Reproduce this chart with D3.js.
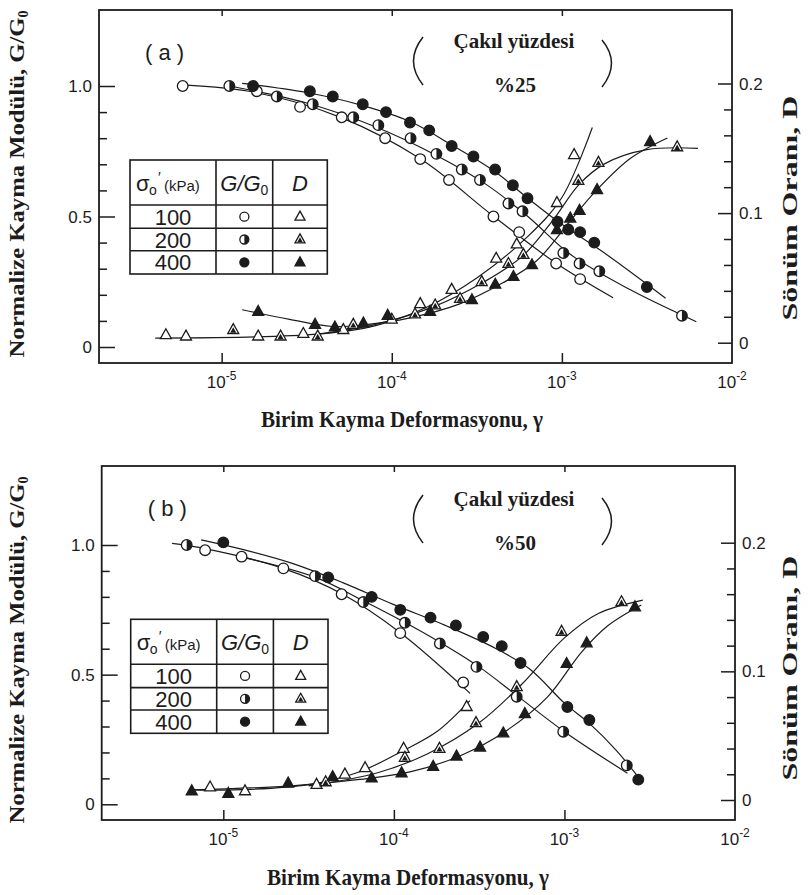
<!DOCTYPE html>
<html>
<head>
<meta charset="utf-8">
<script src="https://cdn.jsdelivr.net/npm/d3@7"></script>
<style>
  body { margin: 0; background: #fff; }
  svg { display: block; }
</style>
</head>
<body>
<svg id="chart" width="808" height="895"></svg>
<script>
// ---------- Axis ticks and labels ----------
const strainTicks = [1e-5, 1e-4, 1e-3, 1e-2];
const strainTickExp = ["-5", "-4", "-3", "-2"];
const gMajorTicks = [0, 0.5, 1.0];
const gMajorLabels = ["0", "0.5", "1.0"];
const gMinorTicks = [0.1, 0.2, 0.3, 0.4, 0.6, 0.7, 0.8, 0.9];
const dMajorTicks = [0, 0.1, 0.2];
const dMajorLabels = ["0", "0.1", "0.2"];
const dMinorTicks = [0.02, 0.04, 0.06, 0.08, 0.12, 0.14, 0.16, 0.18];
const pressures = ["100", "200", "400"];
const panelTags = ["( a )", "( b )"];
const gravelContent = ["%25", "%50"];

// ---------- Panel (a): 25 % gravel — [shear strain, value] ----------
const g100a = [[5.90e-6,1.00],[1.61e-5,0.98],[2.89e-5,0.92],[5.08e-5,0.88],[9.14e-5,0.80],[1.47e-4,0.72],[2.17e-4,0.64],[3.96e-4,0.50],[5.61e-4,0.44],[9.25e-4,0.32],[1.28e-3,0.26]];
const g200a = [[1.11e-5,1.00],[2.11e-5,0.96],[3.43e-5,0.93],[5.94e-5,0.88],[8.34e-5,0.85],[1.29e-4,0.80],[1.83e-4,0.74],[2.58e-4,0.68],[3.30e-4,0.64],[4.85e-4,0.55],[5.87e-4,0.52],[1.02e-3,0.36],[1.27e-3,0.32],[1.66e-3,0.29],[5.08e-3,0.12]];
const g400a = [[1.53e-5,1.00],[3.30e-5,0.98],[4.50e-5,0.96],[6.75e-5,0.93],[9.25e-5,0.90],[1.28e-4,0.86],[1.66e-4,0.83],[2.25e-4,0.77],[3.02e-4,0.73],[4.05e-4,0.68],[5.15e-4,0.62],[6.28e-4,0.57],[9.42e-4,0.48],[1.09e-3,0.45],[1.28e-3,0.44],[1.55e-3,0.40],[3.16e-3,0.23]];
const d100a = [[4.70e-6,0.006],[6.17e-6,0.005],[1.64e-5,0.005],[3.02e-5,0.007],[5.19e-5,0.010],[1.00e-4,0.018],[1.47e-4,0.030],[2.25e-4,0.041],[4.11e-4,0.065],[5.43e-4,0.076],[9.35e-4,0.108],[1.18e-3,0.145]];
const d200a = [[1.17e-5,0.010],[2.22e-5,0.005],[3.67e-5,0.005],[5.94e-5,0.014],[1.37e-4,0.022],[1.80e-4,0.029],[2.52e-4,0.034],[3.38e-4,0.047],[4.85e-4,0.061],[5.94e-4,0.068],[1.25e-3,0.125],[1.64e-3,0.139],[4.76e-3,0.151]];
const d400a = [[1.64e-5,0.024],[3.54e-5,0.014],[4.63e-5,0.012],[6.81e-5,0.015],[9.46e-5,0.021],[1.68e-4,0.024],[2.96e-4,0.033],[4.06e-4,0.045],[5.19e-4,0.051],[6.67e-4,0.060],[9.35e-4,0.087],[1.12e-3,0.096],[1.27e-3,0.102],[1.61e-3,0.118],[3.30e-3,0.155]];

// Drawn trend curves, panel (a)
const fitG100a = [[5.9e-6,1.004],[1.58e-5,0.975],[5.0e-5,0.88],[1.48e-4,0.72],[3.98e-4,0.50],[9.3e-4,0.32],[2.0e-3,0.189]];
const fitG200a = [[1.11e-5,1.0],[3.16e-5,0.935],[7.94e-5,0.845],[1.82e-4,0.735],[3.55e-4,0.625],[6.31e-4,0.50],[1.12e-3,0.355],[2.51e-3,0.22],[6.17e-3,0.097]];
const fitG400a = [[1.32e-5,1.01],[3.16e-5,0.975],[6.76e-5,0.925],[1.29e-4,0.863],[2.24e-4,0.775],[3.98e-4,0.675],[6.31e-4,0.57],[1.0e-3,0.47],[1.78e-3,0.36],[4.07e-3,0.187]];
const fitD100a = [[4.07e-6,0.0036],[1.58e-5,0.0045],[3.98e-5,0.007],[7.94e-5,0.013],[1.58e-4,0.027],[3.16e-4,0.05],[6.31e-4,0.082],[1.0e-3,0.112],[1.51e-3,0.166]];
const fitD200a = [[3.55e-5,0.0065],[7.94e-5,0.014],[1.78e-4,0.028],[3.39e-4,0.046],[5.89e-4,0.067],[8.91e-4,0.095],[1.26e-3,0.122],[1.78e-3,0.138],[3.16e-3,0.149],[6.31e-3,0.150]];
const fitD400a = [[1.32e-5,0.0254],[2.51e-5,0.018],[4.47e-5,0.0125],[7.08e-5,0.014],[1.26e-4,0.019],[2.51e-4,0.030],[4.47e-4,0.046],[7.08e-4,0.063],[1.12e-3,0.094],[1.58e-3,0.117],[2.51e-3,0.142],[4.17e-3,0.158]];

// ---------- Panel (b): 50 % gravel ----------
const g100b = [[7.82e-6,0.98],[1.28e-5,0.955],[2.25e-5,0.91],[4.94e-5,0.81],[1.09e-4,0.66],[2.55e-4,0.47]];
const g200b = [[6.10e-6,1.00],[3.45e-5,0.88],[6.62e-5,0.78],[1.16e-4,0.70],[1.86e-4,0.62],[3.05e-4,0.53],[5.25e-4,0.415],[9.84e-4,0.28],[2.32e-3,0.15]];
const g400b = [[1.0e-5,1.01],[4.12e-5,0.875],[7.41e-5,0.80],[1.09e-4,0.75],[1.64e-4,0.72],[2.31e-4,0.69],[3.34e-4,0.645],[4.29e-4,0.61],[5.53e-4,0.545],[1.04e-3,0.375],[1.40e-3,0.325],[2.71e-3,0.095]];
const d100b = [[8.36e-6,0.010],[1.34e-5,0.007],[3.52e-5,0.012],[5.16e-5,0.020],[6.78e-5,0.025],[1.14e-4,0.040],[2.67e-4,0.0725]];
const d200b = [[3.98e-5,0.014],[1.16e-4,0.033],[1.85e-4,0.040],[3.03e-4,0.060],[5.25e-4,0.088],[9.62e-4,0.131],[2.16e-3,0.154]];
const d400b = [[6.53e-6,0.007],[1.07e-5,0.005],[2.40e-5,0.013],[4.38e-5,0.018],[7.41e-5,0.017],[1.11e-4,0.021],[1.70e-4,0.026],[2.33e-4,0.034],[3.20e-4,0.041],[4.38e-4,0.052],[5.86e-4,0.067],[1.03e-3,0.106],[1.35e-3,0.122],[2.59e-3,0.150]];

// Drawn trend curves, panel (b)
const fitG100b = [[5.01e-6,1.006],[7.94e-6,0.985],[2.24e-5,0.91],[5.01e-5,0.81],[1.10e-4,0.66],[2.80e-4,0.428]];
const fitG200b = [[1.26e-5,0.955],[3.47e-5,0.875],[6.61e-5,0.785],[1.17e-4,0.70],[1.86e-4,0.625],[3.16e-4,0.53],[5.25e-4,0.42],[1.0e-3,0.28],[2.34e-3,0.12]];
const fitG400b = [[7.41e-6,1.02],[1.26e-5,0.985],[2.51e-5,0.93],[5.01e-5,0.855],[1.0e-4,0.77],[2.0e-4,0.69],[3.98e-4,0.60],[6.31e-4,0.52],[1.0e-3,0.39],[1.41e-3,0.31],[2.0e-3,0.21],[2.75e-3,0.10]];
const fitD100b = [[6.38e-6,0.0078],[1.26e-5,0.008],[3.16e-5,0.012],[6.31e-5,0.022],[1.12e-4,0.038],[1.78e-4,0.053],[2.79e-4,0.0773]];
const fitD200b = [[3.16e-5,0.011],[7.94e-5,0.021],[1.58e-4,0.036],[3.16e-4,0.060],[5.62e-4,0.090],[1.0e-3,0.126],[1.58e-3,0.145],[2.88e-3,0.1554]];
const fitD400b = [[6.38e-6,0.0078],[2.51e-5,0.011],[6.31e-5,0.016],[1.26e-4,0.022],[2.51e-4,0.035],[4.47e-4,0.053],[7.94e-4,0.080],[1.26e-3,0.115],[1.78e-3,0.135],[2.82e-3,0.1515]];

// ---------- Drawing ----------
const svg = d3.select("#chart");
const INK = "#1c1c1c";
const SANS = "'Liberation Sans', Arial, Helvetica, sans-serif";
const SERIF = "'Liberation Serif', 'Times New Roman', serif";

const panels = [
  {
    frame: { x0: 99, x1: 732, y0: 10, y1: 363 },
    xMinExp: -5.721,
    gRange: [347, 86], dRange: [342.7, 83.5],
    tag: panelTags[0], gravel: gravelContent[0],
    g: [g100a, g200a, g400a], d: [d100a, d200a, d400a],
    fitG: [fitG100a, fitG200a, fitG400a], fitD: [fitD100a, fitD200a, fitD400a],
    table: { x: 130, y: 160 },
    xTitle: { x: 402, y: 427 }, leftTitleY: 184, rightTitleY: 208,
    notesY: 0
  },
  {
    frame: { x0: 101.7, x1: 735, y0: 466, y1: 820 },
    xMinExp: -5.713,
    gRange: [804.3, 545], dRange: [800, 542.7],
    tag: panelTags[1], gravel: gravelContent[1],
    g: [g100b, g200b, g400b], d: [d100b, d200b, d400b],
    fitG: [fitG100b, fitG200b, fitG400b], fitD: [fitD100b, fitD200b, fitD400b],
    table: { x: 130.7, y: 619.3 },
    xTitle: { x: 408, y: 885 }, leftTitleY: 650, rightTitleY: 668,
    notesY: 458
  }
];

// Marker shapes: kind 0 = open, 1 = half filled, 2 = filled
function drawCircle(g, cx, cy, kind, r) {
  g.append("circle").attr("cx", cx).attr("cy", cy).attr("r", r)
    .attr("fill", kind === 2 ? INK : "#fff").attr("stroke", INK).attr("stroke-width", 1.3);
  if (kind === 1) {
    g.append("path")
      .attr("d", `M${cx},${cy - r} A${r},${r} 0 0 1 ${cx},${cy + r} Z`)
      .attr("fill", INK);
  }
}
function drawTriangle(g, cx, cy, kind, s) {
  const h = s * 0.9;
  const pts = [[cx, cy - h * 0.62], [cx + s / 2, cy + h * 0.38], [cx - s / 2, cy + h * 0.38]];
  g.append("path").attr("d", "M" + pts.join("L") + "Z")
    .attr("fill", kind === 2 ? INK : "#fff").attr("stroke", INK).attr("stroke-width", 1.3)
    .attr("stroke-linejoin", "miter");
  if (kind === 1) {
    const k = 0.55, oy = cy + h * 0.1;
    const inner = pts.map(p => [cx + (p[0] - cx) * k, oy + (p[1] - cy) * k]);
    g.append("path").attr("d", "M" + inner.join("L") + "Z").attr("fill", INK);
  }
}

function drawPanel(p) {
  const f = p.frame;
  const x = d3.scaleLog().domain([Math.pow(10, p.xMinExp), 1e-2]).range([f.x0, f.x1]);
  const yG = d3.scaleLinear().domain([0, 1]).range(p.gRange);
  const yD = d3.scaleLinear().domain([0, 0.2]).range(p.dRange);
  const root = svg.append("g");

  // frame
  root.append("rect").attr("x", f.x0).attr("y", f.y0)
    .attr("width", f.x1 - f.x0).attr("height", f.y1 - f.y0)
    .attr("fill", "none").attr("stroke", INK).attr("stroke-width", 1.8);

  // strain axis (bottom and top ticks pointing inward)
  const bottom = d3.axisBottom(x).tickValues(strainTicks.slice(0, 3)).tickSize(-10).tickFormat("");
  root.append("g").attr("transform", `translate(0,${f.y1})`).call(bottom)
    .call(g => g.select(".domain").remove())
    .call(g => g.selectAll("line").attr("stroke", INK).attr("stroke-width", 1.5));
  const top = d3.axisTop(x).tickValues(strainTicks.slice(0, 3)).tickSize(-6).tickFormat("");
  root.append("g").attr("transform", `translate(0,${f.y0})`).call(top)
    .call(g => g.select(".domain").remove())
    .call(g => g.selectAll("line").attr("stroke", INK).attr("stroke-width", 1.5));
  strainTicks.forEach((t, i) => {
    const tx = root.append("text").attr("x", x(t)).attr("y", f.y1 + 25)
      .attr("text-anchor", "middle").attr("font-family", SANS).attr("font-size", 17).attr("fill", INK);
    tx.append("tspan").text("10");
    tx.append("tspan").attr("dy", -8).attr("font-size", 12).text(strainTickExp[i]);
  });

  // G/G0 axis on the left, ticks pointing in
  const leftMajor = d3.axisRight(yG).tickValues(gMajorTicks).tickSize(16).tickFormat("");
  root.append("g").attr("transform", `translate(${f.x0},0)`).call(leftMajor)
    .call(g => g.select(".domain").remove())
    .call(g => g.selectAll("line").attr("stroke", INK).attr("stroke-width", 1.5));
  const leftMinor = d3.axisRight(yG).tickValues(gMinorTicks).tickSize(8).tickFormat("");
  root.append("g").attr("transform", `translate(${f.x0},0)`).call(leftMinor)
    .call(g => g.select(".domain").remove())
    .call(g => g.selectAll("line").attr("stroke", INK).attr("stroke-width", 1.5));
  gMajorTicks.forEach((t, i) => {
    root.append("text").attr("x", f.x0 - 7).attr("y", yG(t) + 6)
      .attr("text-anchor", "end").attr("font-family", SANS).attr("font-size", 17).attr("fill", INK)
      .text(gMajorLabels[i]);
  });

  // D axis on the right, ticks pointing in
  const rightMajor = d3.axisLeft(yD).tickValues(dMajorTicks).tickSize(14).tickFormat("");
  root.append("g").attr("transform", `translate(${f.x1},0)`).call(rightMajor)
    .call(g => g.select(".domain").remove())
    .call(g => g.selectAll("line").attr("stroke", INK).attr("stroke-width", 1.5));
  const rightMinor = d3.axisLeft(yD).tickValues(dMinorTicks).tickSize(8).tickFormat("");
  root.append("g").attr("transform", `translate(${f.x1},0)`).call(rightMinor)
    .call(g => g.select(".domain").remove())
    .call(g => g.selectAll("line").attr("stroke", INK).attr("stroke-width", 1.5));
  dMajorTicks.forEach((t, i) => {
    root.append("text").attr("x", f.x1 + 7).attr("y", yD(t) + 6)
      .attr("text-anchor", "start").attr("font-family", SANS).attr("font-size", 17).attr("fill", INK)
      .text(dMajorLabels[i]);
  });

  // trend curves
  const curveG = d3.line().x(d => x(d[0])).y(d => yG(d[1])).curve(d3.curveCatmullRom.alpha(0.5));
  const curveD = d3.line().x(d => x(d[0])).y(d => yD(d[1])).curve(d3.curveCatmullRom.alpha(0.5));
  p.fitG.forEach(c => root.append("path").attr("d", curveG(c))
    .attr("fill", "none").attr("stroke", INK).attr("stroke-width", 1.2));
  p.fitD.forEach(c => root.append("path").attr("d", curveD(c))
    .attr("fill", "none").attr("stroke", INK).attr("stroke-width", 1.2));

  // markers
  const mk = root.append("g");
  p.d.forEach((s, k) => s.forEach(d => drawTriangle(mk, x(d[0]), yD(d[1]), k, 11)));
  p.g.forEach((s, k) => s.forEach(d => drawCircle(mk, x(d[0]), yG(d[1]), k, 5.3)));

  // panel tag
  root.append("text").attr("x", f.x0 + 46).attr("y", f.y0 + 50)
    .attr("font-family", SANS).attr("font-size", 22).attr("fill", INK)
    .attr("xml:space", "preserve").text(p.tag);

  // gravel content note with parentheses
  const ny = p.notesY;
  root.append("text").attr("x", 514).attr("y", ny + 48).attr("text-anchor", "middle")
    .attr("font-family", SERIF).attr("font-weight", "bold").attr("font-size", 21).attr("fill", INK)
    .text("Çakıl yüzdesi");
  root.append("text").attr("x", 515).attr("y", ny + 92).attr("text-anchor", "middle")
    .attr("font-family", SERIF).attr("font-weight", "bold").attr("font-size", 21).attr("fill", INK)
    .text(p.gravel);
  root.append("path").attr("d", `M423,${ny + 37} Q404,${ny + 61} 423,${ny + 85}`)
    .attr("fill", "none").attr("stroke", INK).attr("stroke-width", 1.5);
  root.append("path").attr("d", `M602,${ny + 40} Q621,${ny + 63} 602,${ny + 87}`)
    .attr("fill", "none").attr("stroke", INK).attr("stroke-width", 1.5);

  // legend table
  const t = p.table;
  const cols = [t.x, t.x + 86, t.x + 142.7, t.x + 197.3];
  const rows = [t.y, t.y + 45, t.y + 68.3, t.y + 90.7, t.y + 114];
  const tb = root.append("g");
  tb.append("rect").attr("x", cols[0]).attr("y", rows[0]).attr("width", cols[3] - cols[0])
    .attr("height", rows[4] - rows[0]).attr("fill", "#fff").attr("stroke", INK).attr("stroke-width", 1.6);
  [cols[1], cols[2]].forEach(cx => tb.append("line").attr("x1", cx).attr("x2", cx)
    .attr("y1", rows[0]).attr("y2", rows[4]).attr("stroke", INK).attr("stroke-width", 1.6));
  [rows[1], rows[2], rows[3]].forEach(ry => tb.append("line").attr("x1", cols[0]).attr("x2", cols[3])
    .attr("y1", ry).attr("y2", ry).attr("stroke", INK).attr("stroke-width", 1.6));
  const hdrY = rows[0] + 31;
  // σ′o (kPa) header, written left to right without overlapping pieces
  const sx = cols[0] + 6;
  tb.append("text").attr("x", sx).attr("y", hdrY)
    .attr("font-family", SANS).attr("font-size", 22).attr("fill", INK).text("σ");
  tb.append("text").attr("x", sx + 13).attr("y", hdrY + 4)
    .attr("font-family", SANS).attr("font-size", 14).attr("fill", INK).text("o");
  tb.append("text").attr("x", sx + 22).attr("y", hdrY - 9)
    .attr("font-family", SANS).attr("font-size", 15).attr("fill", INK).text("′");
  tb.append("text").attr("x", sx + 28).attr("y", hdrY)
    .attr("font-family", SANS).attr("font-size", 15).attr("fill", INK).text("(kPa)");
  const gg = tb.append("text").attr("x", (cols[1] + cols[2]) / 2).attr("y", hdrY)
    .attr("text-anchor", "middle").attr("font-family", SANS).attr("font-style", "italic")
    .attr("font-size", 22).attr("fill", INK);
  gg.append("tspan").text("G/G");
  gg.append("tspan").attr("dy", 4).attr("font-size", 14).attr("font-style", "normal").text("0");
  tb.append("text").attr("x", (cols[2] + cols[3]) / 2).attr("y", hdrY)
    .attr("text-anchor", "middle").attr("font-family", SANS).attr("font-style", "italic")
    .attr("font-size", 22).attr("fill", INK).text("D");
  pressures.forEach((pr, k) => {
    const cy = (rows[k + 1] + rows[k + 2]) / 2;
    tb.append("text").attr("x", (cols[0] + cols[1]) / 2).attr("y", cy + 8)
      .attr("text-anchor", "middle").attr("font-family", SANS).attr("font-size", 22).attr("fill", INK)
      .text(pr);
    drawCircle(tb, (cols[1] + cols[2]) / 2, cy, k, 4.5);
    drawTriangle(tb, (cols[2] + cols[3]) / 2, cy, k, 10);
  });

  // axis titles
  root.append("text").attr("x", p.xTitle.x).attr("y", p.xTitle.y)
    .attr("text-anchor", "middle").attr("font-family", SERIF).attr("font-weight", "bold")
    .attr("font-size", 23).attr("textLength", 282).attr("lengthAdjust", "spacingAndGlyphs")
    .attr("fill", INK)
    .text("Birim Kayma Deformasyonu, γ");
  const lt = root.append("text")
    .attr("transform", `translate(24,${p.leftTitleY}) rotate(-90)`)
    .attr("text-anchor", "middle").attr("font-family", SERIF).attr("font-weight", "bold")
    .attr("font-size", 21).attr("fill", INK);
  lt.append("tspan").attr("textLength", 340).attr("lengthAdjust", "spacingAndGlyphs")
    .text("Normalize Kayma Modülü, G/G");
  lt.append("tspan").attr("dy", 4).attr("font-size", 14).text("0");
  root.append("text")
    .attr("transform", `translate(797,${p.rightTitleY}) rotate(-90)`)
    .attr("text-anchor", "middle").attr("font-family", SERIF).attr("font-weight", "bold")
    .attr("font-size", 20).attr("textLength", 225).attr("lengthAdjust", "spacingAndGlyphs")
    .attr("fill", INK)
    .text("Sönüm Oranı, D");
}

panels.forEach(drawPanel);
</script>
</body>
</html>
